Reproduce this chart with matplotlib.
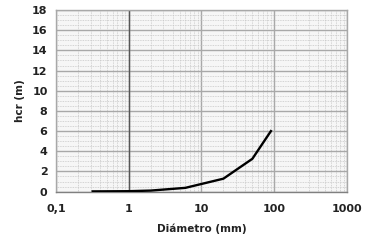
import matplotlib.pyplot as plt
from matplotlib.ticker import MultipleLocator, LogLocator, NullFormatter

diametro = [0.32, 1, 2, 6, 20, 50, 90]
hcr = [0.02, 0.04, 0.1, 0.37, 1.28, 3.25, 6.0]

x_ticks = [0.1, 1, 10, 100, 1000]
x_labels = ["0,1", "1", "10", "100", "1000"]
y_ticks = list(range(0, 20, 2))

fig = plt.figure(figsize=(3.68, 2.45), dpi=100)
ax = fig.add_axes([0.152, 0.218, 0.791, 0.741])

ax.set_xscale("log")
ax.set_xlim(0.1, 1000)
ax.set_ylim(0, 18)

ax.set_xticks(x_ticks)
ax.set_xticklabels(x_labels)
ax.set_yticks(y_ticks)
ax.xaxis.set_minor_locator(LogLocator(base=10, subs=range(2, 10)))
ax.xaxis.set_minor_formatter(NullFormatter())
ax.yaxis.set_minor_locator(MultipleLocator(0.5))

ax.set_facecolor("#f6f6f6")
ax.grid(which="minor", color="#c8c8c8", linestyle=(0, (1, 1)), linewidth=0.6)
ax.grid(which="major", color="#a8a8a8", linestyle="-", linewidth=1.0)
ax.axvline(1, color="#555555", linewidth=1.0, zorder=2)

ax.plot(diametro, hcr, color="black", linewidth=1.7, zorder=3)

for s in ax.spines.values():
    s.set_color("#a8a8a8")
    s.set_linewidth(1.0)
ax.spines["bottom"].set_color("#808080")

ax.tick_params(which="both", length=0, labelsize=8, colors="#222222")
ax.tick_params(axis="x", pad=9)
ax.tick_params(axis="y", pad=6)
for lab in ax.get_xticklabels() + ax.get_yticklabels():
    lab.set_fontweight("bold")

ax.set_xlabel("Diámetro (mm)", fontsize=7.5, fontweight="bold", labelpad=7, color="#222222")
ax.set_ylabel("hcr (m)", fontsize=7.5, fontweight="bold", labelpad=5, color="#222222")

fig.savefig("out.png", dpi=100)
